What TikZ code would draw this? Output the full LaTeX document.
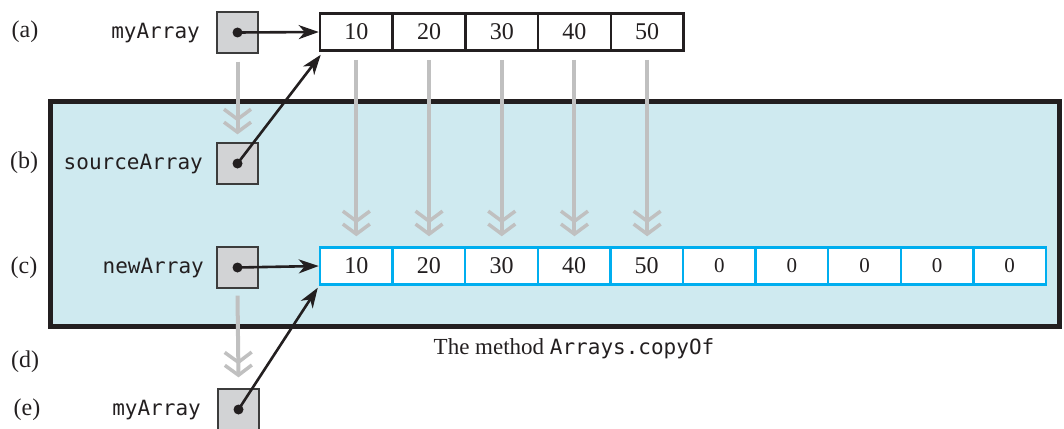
\documentclass[tikz,border=0pt]{standalone}
\usepackage{fontspec}
\setmainfont{Liberation Serif}
\setmonofont{DejaVu Sans Mono}
\usetikzlibrary{arrows.meta}
\definecolor{bgblue}{RGB}{207,234,240}
\definecolor{cellblue}{RGB}{0,174,239}
\definecolor{boxgray}{RGB}{210,211,213}
\definecolor{boxedge}{RGB}{60,60,60}
\definecolor{arrgray}{RGB}{192,192,192}
\definecolor{ink}{RGB}{35,31,32}
\tikzset{
  serif/.style={font=\fontsize{24}{28}\selectfont, text=ink},
  mono/.style={font=\fontsize{21}{25}\selectfont\ttfamily, text=ink},
  refbox/.style={draw=boxedge, line width=1.3pt, fill=boxgray, minimum width=41pt, minimum height=41pt, inner sep=0pt},
  dot/.style={circle, fill=ink, minimum size=10pt, inner sep=0pt},
  topcell/.style={draw=ink, line width=2.5pt, fill=white, minimum width=72.7pt, minimum height=37pt, inner sep=0pt, serif},
  newcell/.style={draw=cellblue, line width=2.5pt, fill=white, minimum width=72.6pt, minimum height=37pt, inner sep=0pt, serif},
  ptr/.style={draw=ink, line width=2.6pt, -{Stealth[length=20pt,width=14pt,inset=6pt]}},
  copyarr/.style={draw=arrgray, line width=4pt,
    -{Straight Barb[length=10pt,width=27pt,line width=3.5pt,sep=-1pt]Straight Barb[length=10pt,width=27pt,line width=3.5pt]}},
  rowlabel/.style={serif, anchor=center},
  varname/.style={mono, anchor=east, inner sep=0pt},
}
\begin{document}
\begin{tikzpicture}[x=1pt,y=-1pt]
\useasboundingbox (0,0) rectangle (1064,428);
% method frame
\draw[draw=ink, fill=bgblue, line width=5pt] (50.5,101.5) rectangle (1059.5,326);

% row labels
\node[rowlabel] (la) at (25,32) {(a)};
\node[rowlabel] (lb) at (24,163) {(b)};
\node[rowlabel] (lc) at (24,268) {(c)};
\node[rowlabel] (ld) at (25,362) {(d)};
\node[rowlabel] (le) at (27,410) {(e)};

% reference boxes
\node[refbox] (ma) at (237.5,32.5) {};
\node[refbox] (sa) at (237.5,163.5) {};
\node[refbox] (na) at (237.5,267.5) {};
\node[refbox] (me) at (238.5,409.5) {};
\node[dot] (dma) at (ma.center) {};
\node[dot] (dsa) at (sa.center) {};
\node[dot] (dna) at (na.center) {};
\node[dot] (dme) at (me.center) {};

% variable names
\node[varname] (tma) at (200,33) {myArray};
\node[varname] (tsa) at (203,164) {sourceArray};
\node[varname] (tna) at (204,268) {newArray};
\node[varname] (tme) at (201,410) {myArray};

% source array
\foreach \v [count=\i] in {10,20,30,40,50} {
  \node[topcell] (a\i) at ({320+72.7*(\i-0.5)},32) {\v};
}
% new array
\foreach \v [count=\i] in {10,20,30,40,50,0,0,0,0,0} {
  \node[newcell] (b\i) at ({320+72.6*(\i-0.5)},266) {\ifnum\i>5 \fontsize{21}{24}\selectfont\fi\v};
}

% copy arrows
\draw[copyarr] ([yshift=-8pt]ma.south) -- ([yshift=8pt]sa.north);
\foreach \i in {1,...,5} {
  \draw[copyarr] ([yshift=-8pt]a\i.south) -- ([yshift=10pt]a\i.south |- b\i.north);
}
\draw[copyarr] ([yshift=-7pt]na.south) -- ([yshift=11pt]me.north);

% pointers
\draw[ptr] (dma.center) -- (a1.west);
\draw[ptr] (dsa.center) -- ([shift={(2pt,-3pt)}]a1.south west);
\draw[ptr] (dna.center) -- (b1.west);
\draw[ptr] (dme.center) -- ([shift={(-1pt,-2pt)}]b1.south west);

% caption
\node[serif, anchor=center, font=\fontsize{23}{27}\selectfont] (cap) at (574,349) {The method \texttt{\fontsize{21}{25}\selectfont Arrays.copyOf}};
\end{tikzpicture}
\end{document}
